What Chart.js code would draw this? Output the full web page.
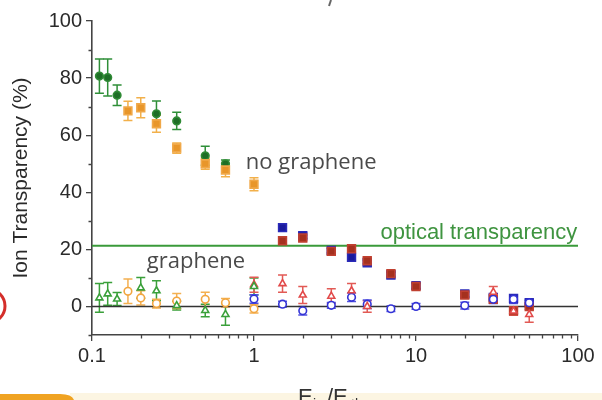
<!DOCTYPE html>
<html>
<meta charset="utf-8">
<head>
    <title>Ion Transparency</title>
    <script src="https://cdn.jsdelivr.net/npm/chart.js@4.4.0/dist/chart.umd.min.js"></script>
    <style>
    html, body {
        margin: 0;
        padding: 0;
        background: #fff;
    }
    canvas {
        display: block;
    }
    </style>
</head>

<body>
    <canvas id="ionChart" width="602" height="400"></canvas>

    <script>
        // E ratio values (1/9 ... 50)
        var xGreen = [1/9, 1/8, 1/7, 1/4, 1/3, 1/2, 2/3];
        var xOrange = [1/6, 1/5, 1/4, 1/3, 1/2, 2/3, 1];
        var xHigh = [1.5, 2, 3, 4, 5, 7, 10, 20, 30, 40, 50];

        // no graphene (filled markers)
        var noGrGreen = [80.7, 80.2, 74, 67.5, 65, 52.8, 50];
        var noGrGreenErr = [6, 6.5, 3.6, 4.5, 3, 3.3, 1.3];
        var noGrOrange = [68.5, 69.6, 64, 55.5, 50, 47.8, 42.8];
        var noGrOrangeErr = [3.4, 3.5, 3, 1.8, 1.9, 2.4, 2.3];
        var noGrBlue = [27.6, 24.8, 19.6, 17.2, 15.3, 11, 7.3, 4.4, 3.2, 2.8, 1.3];
        var noGrBlueErr = [1, 1, 0.8, 1, 1, 1, 1, 1, 1, 0.8, 0.8];
        var noGrRed = [23, 24, 19.3, 20.2, 16, 11.5, 7, 4, 2.5, -1.5, 0];
        var noGrRedErr = [1, 1, 1, 1, 1, 1, 1, 1, 1, 1, 1];

        // graphene (open markers)
        var xGrGreen = [1/9, 1/8, 1/7, 1/5, 1/4, 1/3, 1/2, 2/3, 1];
        var grGreen = [3, 4.4, 2.6, 6.5, 5.5, 0.3, -1.4, -2.8, 7];
        var grGreenErr = [5, 4, 2.3, 3.6, 3.5, 1.5, 2.2, 3.8, 3];
        var grOrange = [5.3, 3, 1, 1.9, 2.5, 1.3, -0.8];
        var grOrangeErr = [4.3, 2.5, 1.5, 2.6, 2.5, 1.5, 1.5];
        var xGrBlue = [1, 1.5, 2, 3, 4, 5, 7, 10, 20, 30, 40, 50];
        var grBlue = [2.6, 0.8, -1.5, 0.4, 3.2, 0.8, -0.8, 0, 0.3, 2.5, 2.5, 1.3];
        var grBlueErr = [1.5, 1, 1.5, 1, 1.5, 1.5, 1, 1, 1.2, 1.5, 1.5, 1];
        var xGrRed = [1, 1.5, 2, 3, 4, 5, 30, 40, 50];
        var grRed = [7.6, 8, 4, 3.6, 5.5, 0, 5, -1.6, -2.8];
        var grRedErr = [2.6, 3, 3, 2.6, 2.5, 2, 2, 1.5, 2.7];

        // reference lines
        var opticalLevel = 21.3;
        var zeroLevel = 0;

        var xTickLabels = [0.1, 1, 10, 100];
        var yTickLabels = [0, 20, 40, 60, 80, 100];

        function pts(xs, ys) {
            return xs.map(function (x, i) { return {x: x, y: ys[i]}; });
        }

        function series(label, xs, ys, errs, style, fill, edge, barColor, radius) {
            return {
                label: label,
                data: pts(xs, ys),
                errors: errs,
                errorColor: barColor,
                pointStyle: style,
                pointRadius: radius,
                pointBackgroundColor: fill,
                pointBorderColor: edge,
                pointBorderWidth: 1.6,
                showLine: false,
                order: 1
            };
        }

        function hline(level, color, width) {
            return {
                label: '',
                data: [{x: 0.1, y: level}, {x: 100, y: level}],
                showLine: true,
                borderColor: color,
                borderWidth: width,
                pointRadius: 0,
                fill: false,
                order: 10
            };
        }

        var isDecade = function (v) {
            var l = Math.log10(v);
            return Math.abs(l - Math.round(l)) < 1e-6;
        };

        // draws vertical error bars with caps, under the markers
        var errorBars = {
            id: 'errorBars',
            beforeDatasetsDraw: function (chart) {
                var ctx = chart.ctx;
                var ys = chart.scales.y;
                var xs = chart.scales.x;
                chart.data.datasets.forEach(function (ds) {
                    if (!ds.errors) return;
                    ctx.save();
                    ctx.strokeStyle = ds.errorColor;
                    ctx.lineWidth = 1.5;
                    ds.data.forEach(function (p, i) {
                        var e = ds.errors[i];
                        var px = xs.getPixelForValue(p.x);
                        var top = ys.getPixelForValue(p.y + e);
                        var bot = ys.getPixelForValue(p.y - e);
                        ctx.beginPath();
                        ctx.moveTo(px, top);
                        ctx.lineTo(px, bot);
                        ctx.moveTo(px - 4.5, top);
                        ctx.lineTo(px + 4.5, top);
                        ctx.moveTo(px - 4.5, bot);
                        ctx.lineTo(px + 4.5, bot);
                        ctx.stroke();
                    });
                    ctx.restore();
                });
            }
        };

        // short minor ticks (the long major ones come from the grid)
        var minorTicks = {
            id: 'minorTicks',
            afterDraw: function (chart) {
                var ctx = chart.ctx;
                var xs = chart.scales.x;
                var ys = chart.scales.y;
                var area = chart.chartArea;
                ctx.save();
                ctx.strokeStyle = '#444';
                ctx.lineWidth = 1.3;
                ctx.beginPath();
                xs.ticks.forEach(function (t) {
                    if (isDecade(t.value)) return;
                    var px = Math.round(xs.getPixelForValue(t.value)) + 0.5;
                    ctx.moveTo(px, area.bottom);
                    ctx.lineTo(px, area.bottom + 3.5);
                });
                ys.ticks.forEach(function (t) {
                    if (t.value % 20 === 0) return;
                    var py = Math.round(ys.getPixelForValue(t.value)) + 0.5;
                    ctx.moveTo(area.left, py);
                    ctx.lineTo(area.left - 3.5, py);
                });
                ctx.stroke();
                ctx.restore();
            }
        };

        // labels written inside the plot
        var plotText = {
            id: 'plotText',
            afterDatasetsDraw: function (chart) {
                var ctx = chart.ctx;
                var xs = chart.scales.x;
                var ys = chart.scales.y;
                ctx.save();
                ctx.textBaseline = 'alphabetic';

                ctx.fillStyle = '#4a4a4a';
                ctx.font = '22px "Open Sans"';
                ctx.textAlign = 'left';
                ctx.fillText('no graphene', xs.getPixelForValue(0.89), ys.getPixelForValue(48));
                ctx.fillText('graphene', xs.getPixelForValue(0.218), ys.getPixelForValue(13.3));

                ctx.fillStyle = '#3f9440';
                ctx.font = '22px "Liberation Sans"';
                ctx.textAlign = 'right';
                ctx.fillText('optical transparency', xs.getPixelForValue(99), ys.getPixelForValue(23.6));
                ctx.restore();
            }
        };

        // page background, the x label peeking in at the bottom and the slide bits at the edges
        var pageBits = {
            id: 'pageBits',
            beforeDraw: function (chart) {
                var ctx = chart.ctx;
                ctx.save();
                ctx.fillStyle = '#ffffff';
                ctx.fillRect(0, 0, chart.width, chart.height);

                ctx.fillStyle = '#fcf5e2';
                ctx.fillRect(70, 393, chart.width - 70, 7);

                ctx.fillStyle = '#f0a322';
                ctx.beginPath();
                ctx.moveTo(0, 394);
                ctx.lineTo(60, 394);
                ctx.quadraticCurveTo(72, 394, 74, 400);
                ctx.lineTo(0, 400);
                ctx.closePath();
                ctx.fill();

                ctx.strokeStyle = '#d42e2a';
                ctx.lineWidth = 3;
                ctx.beginPath();
                ctx.arc(-12, 306, 17, -Math.PI / 2, Math.PI / 2);
                ctx.stroke();

                ctx.strokeStyle = '#666';
                ctx.lineWidth = 2;
                ctx.beginPath();
                ctx.moveTo(331, 0);
                ctx.lineTo(329, 6);
                ctx.stroke();

                // x axis title, mostly below the edge
                ctx.fillStyle = '#333';
                ctx.textAlign = 'left';
                ctx.textBaseline = 'alphabetic';
                ctx.font = '22px "Liberation Sans"';
                ctx.fillText('E', 298, 404);
                ctx.fillText('/E', 327, 404);
                ctx.font = '14px "Liberation Sans"';
                ctx.fillText('ion', 313, 409);
                ctx.fillText('th', 351, 409);
                ctx.restore();
            }
        };

        window.onload = function () {
            var ctx = document.getElementById('ionChart').getContext('2d');
            window.ionChart = new Chart(ctx, {
                type: 'scatter',
                data: {
                    datasets: [
                        hline(opticalLevel, '#3a9a3a', 2),
                        hline(zeroLevel, '#333333', 1.6),
                        series('graphene green', xGrGreen, grGreen, grGreenErr, 'triangle', '#ffffff', '#3aa03a', '#3aa03a', 4),
                        series('graphene orange', xOrange, grOrange, grOrangeErr, 'circle', '#ffffff', '#f2a640', '#f4b050', 3.8),
                        series('graphene red', xGrRed, grRed, grRedErr, 'triangle', '#ffffff', '#e24a4a', '#e25a55', 4),
                        series('graphene blue', xGrBlue, grBlue, grBlueErr, 'circle', '#ffffff', '#3333d6', '#5050e0', 3.8),
                        series('no graphene orange', xOrange, noGrOrange, noGrOrangeErr, 'rect', '#e8962a', '#f0a848', '#f2b04a', 5.5),
                        series('no graphene green', xGreen, noGrGreen, noGrGreenErr, 'circle', '#1e6e26', '#2f8a35', '#2f8f38', 3.8),
                        series('no graphene red', xHigh, noGrRed, noGrRedErr, 'rect', '#a5311f', '#c04030', '#c04030', 5.5),
                        series('no graphene blue', xHigh, noGrBlue, noGrBlueErr, 'rect', '#1a1a9c', '#2a2ab8', '#2a2ab8', 5.5)
                    ]
                },
                options: {
                    responsive: false,
                    animation: false,
                    layout: {
                        padding: {left: 0, top: 21, right: 24, bottom: 25}
                    },
                    plugins: {
                        legend: {display: false},
                        tooltip: {enabled: false}
                    },
                    scales: {
                        x: {
                            type: 'logarithmic',
                            position: 'bottom',
                            min: 0.1,
                            max: 100,
                            border: {color: '#444', width: 1.6},
                            grid: {
                                display: true,
                                drawOnChartArea: false,
                                tickLength: 6,
                                lineWidth: 1.3,
                                color: function (c) {
                                    return c.tick && isDecade(c.tick.value) ? '#444' : 'rgba(0,0,0,0)';
                                }
                            },
                            afterBuildTicks: function (scale) {
                                var ticks = [];
                                [0.1, 1, 10].forEach(function (p) {
                                    for (var k = 1; k < 10; k++) {
                                        ticks.push({value: Number((k * p).toPrecision(3))});
                                    }
                                });
                                ticks.push({value: 100});
                                scale.ticks = ticks;
                            },
                            ticks: {
                                autoSkip: false,
                                maxRotation: 0,
                                padding: 3,
                                color: '#2a2a2a',
                                font: {family: 'Liberation Sans', size: 20},
                                callback: function (v) {
                                    return xTickLabels.indexOf(v) >= 0 ? String(v) : '';
                                }
                            },
                            afterFit: function (scale) {
                                scale.height = 40;
                            }
                        },
                        y: {
                            type: 'linear',
                            min: -10,
                            max: 100,
                            border: {color: '#444', width: 1.6},
                            grid: {
                                display: true,
                                drawOnChartArea: false,
                                tickLength: 6,
                                lineWidth: 1.3,
                                color: function (c) {
                                    return c.tick && c.tick.value % 20 === 0 ? '#444' : 'rgba(0,0,0,0)';
                                }
                            },
                            ticks: {
                                stepSize: 10,
                                padding: 4,
                                color: '#2a2a2a',
                                font: {family: 'Liberation Sans', size: 20},
                                callback: function (v) {
                                    return yTickLabels.indexOf(v) >= 0 ? v : '';
                                }
                            },
                            title: {
                                display: true,
                                text: 'Ion Transparency (%)',
                                color: '#2a2a2a',
                                font: {family: 'Liberation Sans', size: 21},
                                padding: {top: 9, bottom: 0}
                            },
                            afterFit: function (scale) {
                                scale.width = 92;
                            }
                        }
                    }
                },
                plugins: [pageBits, errorBars, minorTicks, plotText]
            });
        };
    </script>
</body>

</html>
